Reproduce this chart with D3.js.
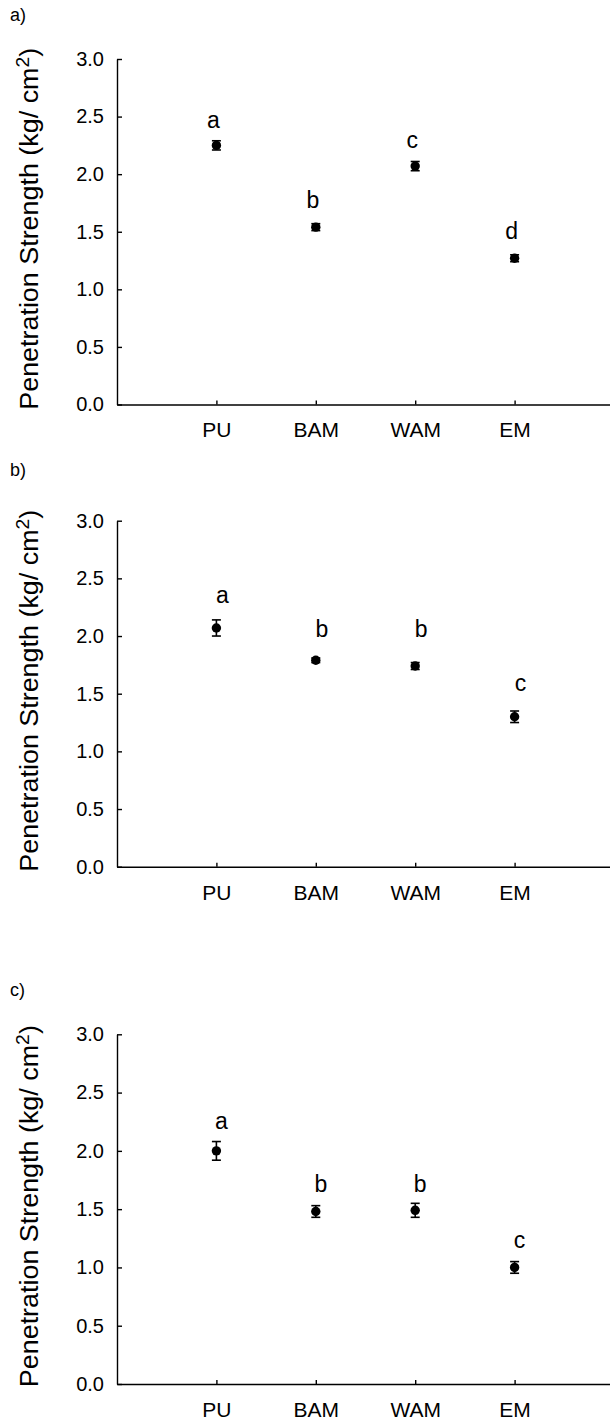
<!DOCTYPE html>
<html>
<head>
<meta charset="utf-8">
<script src="https://cdn.jsdelivr.net/npm/d3@7"></script>
<style>
  body { margin: 0; background: #fff; }
  svg { display: block; font-family: "Liberation Sans", Arial, sans-serif; }
</style>
</head>
<body>
<div id="chart"></div>
<script>
// ---- data
const categories = ["PU", "BAM", "WAM", "EM"];
const yTicks = [0, 0.5, 1.0, 1.5, 2.0, 2.5, 3.0];
const panelLabels = ["a)", "b)", "c)"];

// panel a
const meansA = [2.25, 1.54, 2.07, 1.27];
const errA = [0.04, 0.03, 0.04, 0.03];
const lettersA = ["a", "b", "c", "d"];
const letterPosA = [2.40, 1.71, 2.23, 1.44];

// panel b
const meansB = [2.07, 1.79, 1.74, 1.30];
const errB = [0.07, 0.02, 0.03, 0.05];
const lettersB = ["a", "b", "b", "c"];
const letterPosB = [2.29, 1.99, 1.99, 1.52];

// panel c
const meansC = [2.00, 1.48, 1.49, 1.00];
const errC = [0.08, 0.05, 0.06, 0.05];
const lettersC = ["a", "b", "b", "c"];
const letterPosC = [2.19, 1.65, 1.65, 1.17];

// ---- layout
var width = 610, height = 1422;
var axisLeft = 117, axisRight = 614;

var panels = [
  {label: panelLabels[0], top: 59, bottom: 404.5, labelY: 21, letterDx: -3,
   means: meansA, err: errA, letters: lettersA, letterPos: letterPosA},
  {label: panelLabels[1], top: 520.7, bottom: 866.7, labelY: 476, letterDx: 6,
   means: meansB, err: errB, letters: lettersB, letterPos: letterPosB},
  {label: panelLabels[2], top: 1034.3, bottom: 1384, labelY: 996, letterDx: 5,
   means: meansC, err: errC, letters: lettersC, letterPos: letterPosC}
];

var svg = d3.select("#chart")
  .append("svg")
    .attr("width", width)
    .attr("height", height);

// x: category index 1..4 on a 0..5 axis
var x = d3.scaleLinear()
  .domain([0, 5])
  .range([axisLeft, axisRight]);

panels.forEach(function(p) {
  var y = d3.scaleLinear()
    .domain([0, 3])
    .range([p.bottom, p.top]);

  var g = svg.append("g");

  // panel letter
  g.append("text")
    .attr("x", 10)
    .attr("y", p.labelY)
    .style("font-size", "18px")
    .text(p.label);

  // ---- Y axis
  var yAxis = g.append("g")
    .attr("transform", "translate(" + axisLeft + ",0)")
    .call(d3.axisLeft(y)
      .tickValues(yTicks)
      .tickFormat(d3.format(".1f"))
      .tickSizeInner(-5)
      .tickSizeOuter(0)
      .tickPadding(13));
  yAxis.selectAll("text")
    .style("font-size", "20px")
    .style("font-family", "Liberation Sans, Arial, sans-serif")
    .attr("fill", "#000");

  // ---- X axis
  var xAxis = g.append("g")
    .attr("transform", "translate(0," + p.bottom + ")")
    .call(d3.axisBottom(x)
      .tickValues([1, 2, 3, 4])
      .tickFormat(function(d) { return categories[d - 1]; })
      .tickSizeInner(-4)
      .tickSizeOuter(0)
      .tickPadding(18));
  xAxis.selectAll("text")
    .style("font-size", "21px")
    .style("font-family", "Liberation Sans, Arial, sans-serif")
    .attr("fill", "#000");

  g.selectAll(".domain, .tick line")
    .attr("stroke", "#000")
    .attr("stroke-width", 1.4);

  // ---- Y title
  var cy = (p.top + p.bottom) / 2 - 3;
  var title = g.append("text")
    .attr("transform", "translate(38," + cy + ") rotate(-90)")
    .attr("text-anchor", "middle")
    .attr("textLength", 362)
    .attr("lengthAdjust", "spacingAndGlyphs")
    .style("font-size", "25px");
  title.append("tspan").text("Penetration Strength (kg/ cm");
  title.append("tspan").attr("dy", -9).style("font-size", "18px").text("2");
  title.append("tspan").attr("dy", 9).text(")");

  var rows = categories.map(function(c, i) {
    return {i: i + 1, mean: p.means[i], err: p.err[i],
            letter: p.letters[i], letterPos: p.letterPos[i]};
  });

  // ---- error bars
  var eb = g.selectAll(".eb")
    .data(rows)
    .enter()
    .append("g")
      .attr("class", "eb")
      .attr("stroke", "#000")
      .attr("stroke-width", 1.6);
  eb.append("line")
    .attr("x1", function(d) { return x(d.i); })
    .attr("x2", function(d) { return x(d.i); })
    .attr("y1", function(d) { return y(d.mean - d.err); })
    .attr("y2", function(d) { return y(d.mean + d.err); });
  eb.append("line")
    .attr("x1", function(d) { return x(d.i) - 4.5; })
    .attr("x2", function(d) { return x(d.i) + 4.5; })
    .attr("y1", function(d) { return y(d.mean + d.err); })
    .attr("y2", function(d) { return y(d.mean + d.err); });
  eb.append("line")
    .attr("x1", function(d) { return x(d.i) - 4.5; })
    .attr("x2", function(d) { return x(d.i) + 4.5; })
    .attr("y1", function(d) { return y(d.mean - d.err); })
    .attr("y2", function(d) { return y(d.mean - d.err); });

  // ---- points
  g.selectAll(".pt")
    .data(rows)
    .enter()
    .append("circle")
      .attr("class", "pt")
      .attr("cx", function(d) { return x(d.i); })
      .attr("cy", function(d) { return y(d.mean); })
      .attr("r", 4.7)
      .attr("fill", "#000");

  // ---- significance letters
  g.selectAll(".sig")
    .data(rows)
    .enter()
    .append("text")
      .attr("class", "sig")
      .attr("x", function(d) { return x(d.i) + p.letterDx; })
      .attr("y", function(d) { return y(d.letterPos); })
      .attr("text-anchor", "middle")
      .style("font-size", "23px")
      .text(function(d) { return d.letter; });
});
</script>
</body>
</html>
